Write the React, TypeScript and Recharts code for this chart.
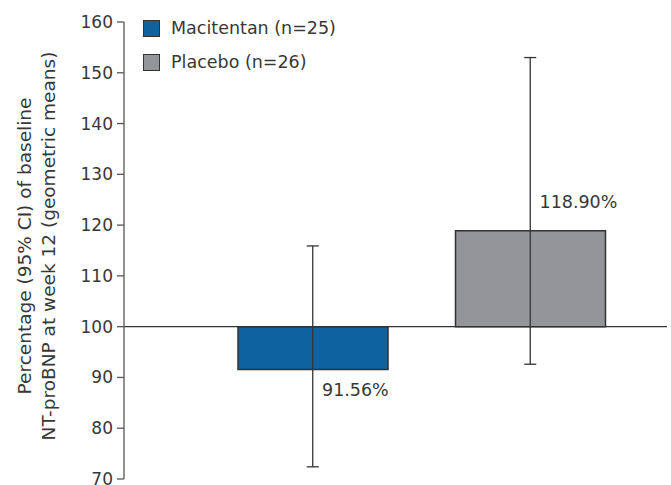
import React from 'react';
import {
  ComposedChart,
  Bar,
  Line,
  ErrorBar,
  XAxis,
  YAxis,
  ReferenceLine,
  Cell,
  LabelList,
  Legend,
  Label,
} from 'recharts';

const categories = ['Macitentan (n=25)', 'Placebo (n=26)'];
const means = [91.56, 118.9];
const ciLower = [72.4, 92.6];
const ciUpper = [115.9, 153.0];
const valueLabels = ['91.56%', '118.90%'];
const colors = ['#0f62a0', '#939598'];
const yTicks = [70, 80, 90, 100, 110, 120, 130, 140, 150, 160];
const baseline = 100;
const yLabelLines = ['Percentage (95% CI) of baseline', 'NT-proBNP at week 12 (geometric means)'];

const FONT = '"DejaVu Sans", sans-serif';
const TEXT = '#383838';
const INK = '#333333';

const data = categories.map((c, i) => ({
  name: c,
  range: [Math.min(baseline, means[i]), Math.max(baseline, means[i])],
  mean: means[i],
  err: [means[i] - ciLower[i], ciUpper[i] - means[i]],
}));

const renderValueLabel = (props: any) => {
  const { x, y, width, height, index } = props;
  const down = means[index] < baseline;
  const cx = Number(x) + Number(width) / 2;
  const ty = down ? Number(y) + Number(height) + 26 : Number(y) - 23;
  return (
    <text x={cx + 9} y={ty} fill={TEXT} fontFamily={FONT} fontSize={17.5} textAnchor="start">
      {valueLabels[index]}
    </text>
  );
};

const renderLegend = () => (
  <div style={{ fontFamily: FONT, fontSize: 17.5, color: TEXT, lineHeight: '18px' }}>
    {categories.map((c, i) => (
      <div key={c} style={{ display: 'flex', alignItems: 'center', height: 34 }}>
        <span
          style={{
            display: 'inline-block',
            width: 15,
            height: 15,
            background: colors[i],
            border: `1.5px solid ${INK}`,
            marginRight: 11,
          }}
        />
        <span>{c}</span>
      </div>
    ))}
  </div>
);

const renderYLabel = () => (
  <text
    transform="translate(31, 246) rotate(-90)"
    textAnchor="middle"
    fill={TEXT}
    fontFamily={FONT}
    fontSize={18.5}
  >
    <tspan x={0} dy={0}>{yLabelLines[0]}</tspan>
    <tspan x={0} dy={24}>{yLabelLines[1]}</tspan>
  </text>
);

export default function App() {
  return (
    <div style={{ position: 'absolute', left: 0, top: 0, background: '#fff' }}>
      <ComposedChart
        width={671}
        height={485}
        data={data}
        margin={{ top: 22, right: 4, bottom: 6, left: 0 }}
      >
        <XAxis dataKey="name" type="category" hide padding={{ left: 80, right: 28 }} />
        <YAxis
          type="number"
          domain={[70, 160]}
          ticks={yTicks}
          interval={0}
          width={124}
          tickSize={7}
          tickMargin={4}
          axisLine={{ stroke: '#555555', strokeWidth: 1.3 }}
          tickLine={{ stroke: '#555555', strokeWidth: 1.3 }}
          tick={{ fill: TEXT, fontSize: 17, fontFamily: FONT }}
        >
          <Label content={renderYLabel} />
        </YAxis>
        <Legend
          content={renderLegend}
          layout="vertical"
          align="center"
          verticalAlign="middle"
          wrapperStyle={{ left: 143, top: 11, width: 'auto' }}
        />
        <Bar
          dataKey="range"
          barSize={150}
          stroke={INK}
          strokeWidth={1.5}
          isAnimationActive={false}
        >
          {data.map((d, i) => (
            <Cell key={d.name} fill={colors[i]} />
          ))}
          <LabelList dataKey="range" content={renderValueLabel} />
        </Bar>
        <ReferenceLine y={baseline} stroke={INK} strokeWidth={1.3} />
        <Line
          dataKey="mean"
          stroke="none"
          dot={false}
          activeDot={false}
          legendType="none"
          isAnimationActive={false}
        >
          <ErrorBar dataKey="err" direction="y" width={6} stroke={INK} strokeWidth={1.3} />
        </Line>
      </ComposedChart>
    </div>
  );
}
